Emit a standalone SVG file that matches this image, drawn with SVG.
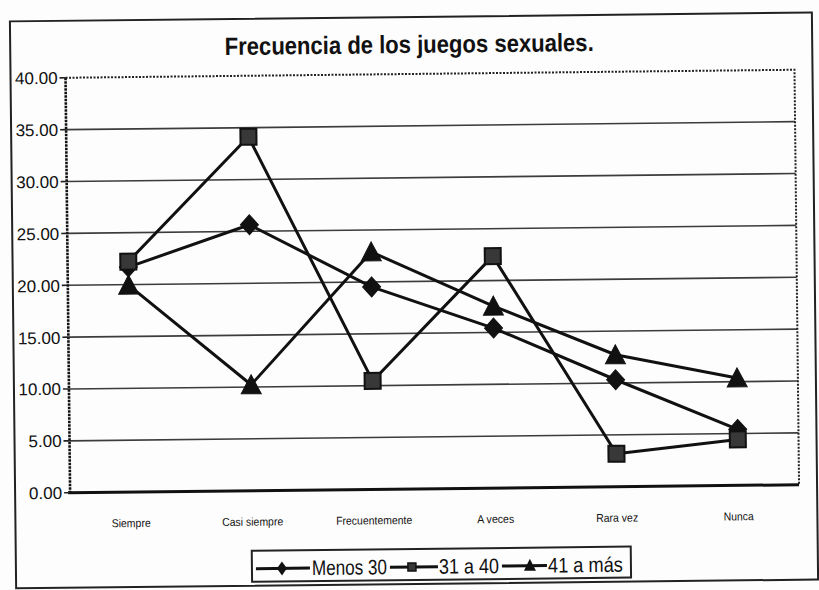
<svg xmlns="http://www.w3.org/2000/svg" width="819" height="590" viewBox="0 0 819 590">
<style>
.t{font-family:"Liberation Sans",Arial,Helvetica,sans-serif;fill:#111}
.title{font-size:25px;font-weight:bold;text-anchor:middle}
.y{font-size:17px;text-anchor:end}
.x{font-size:11.5px;text-anchor:middle}
.lg{font-size:21px}
.grid{stroke:#3c3c3c;stroke-width:1.6}
.tick{stroke:#222;stroke-width:1.6}
.ser{fill:none;stroke:#111;stroke-width:3;stroke-linejoin:round}
.mk{fill:#111;stroke:#111;stroke-width:1}
.sq{fill:#383838;stroke:#111;stroke-width:2}
</style>
<defs>
<path id="dia" d="M0,-10 L9,0 L0,10 L-9,0 Z"/>
<rect id="sqm" x="-8" y="-8" width="16" height="16"/>
<path id="tri" d="M0,-10 L10,9 L-10,9 Z"/>
</defs>
<rect width="819" height="590" fill="#fdfdfd"/>
<g transform="rotate(-0.63 410 300)">
  <g id="chart-frame">
    <rect x="13" y="17" width="802" height="567" fill="none" stroke="#222" stroke-width="2"/>
  </g>
  <g id="title">
    <text class="t title" x="412" y="53" textLength="369" lengthAdjust="spacingAndGlyphs">Frecuencia de los juegos sexuales.</text>
  </g>
  <g id="plot-area">
    <g id="gridlines">
      <line class="grid" x1="68" y1="125.9" x2="797" y2="125.9"/>
      <line class="grid" x1="68" y1="177.75" x2="797" y2="177.75"/>
      <line class="grid" x1="68" y1="229.6" x2="797" y2="229.6"/>
      <line class="grid" x1="68" y1="281.5" x2="797" y2="281.5"/>
      <line class="grid" x1="68" y1="333.4" x2="797" y2="333.4"/>
      <line class="grid" x1="68" y1="385.25" x2="797" y2="385.25"/>
      <line class="grid" x1="68" y1="437.1" x2="797" y2="437.1"/>
    </g>
    <path d="M68,74 H797 V489" fill="none" stroke="#222" stroke-width="2" stroke-dasharray="2 1.5"/>
    <line x1="68" y1="74" x2="68" y2="489" stroke="#111" stroke-width="2.6" stroke-dasharray="2.5 1"/>
    <line x1="66" y1="489" x2="797" y2="489" stroke="#111" stroke-width="3"/>
  </g>
  <g id="y-axis">
    <g class="tick">
      <line x1="62" y1="74" x2="68" y2="74"/>
      <line x1="62" y1="125.9" x2="68" y2="125.9"/>
      <line x1="62" y1="177.75" x2="68" y2="177.75"/>
      <line x1="62" y1="229.6" x2="68" y2="229.6"/>
      <line x1="62" y1="281.5" x2="68" y2="281.5"/>
      <line x1="62" y1="333.4" x2="68" y2="333.4"/>
      <line x1="62" y1="385.25" x2="68" y2="385.25"/>
      <line x1="62" y1="437.1" x2="68" y2="437.1"/>
      <line x1="62" y1="489" x2="68" y2="489"/>
    </g>
    <text class="t y" x="60" y="80">40.00</text>
    <text class="t y" x="60" y="132">35.00</text>
    <text class="t y" x="60" y="184">30.00</text>
    <text class="t y" x="60" y="236">25.00</text>
    <text class="t y" x="60" y="288">20.00</text>
    <text class="t y" x="60" y="340">15.00</text>
    <text class="t y" x="60" y="391">10.00</text>
    <text class="t y" x="60" y="443">5.00</text>
    <text class="t y" x="60" y="495">0.00</text>
  </g>
  <g id="x-axis">
    <text class="t x" x="128.75" y="524" textLength="39" lengthAdjust="spacingAndGlyphs">Siempre</text>
    <text class="t x" x="250.25" y="524" textLength="61" lengthAdjust="spacingAndGlyphs">Casi siempre</text>
    <text class="t x" x="371.75" y="524" textLength="76" lengthAdjust="spacingAndGlyphs">Frecuentemente</text>
    <text class="t x" x="493.25" y="524" textLength="37" lengthAdjust="spacingAndGlyphs">A veces</text>
    <text class="t x" x="614.75" y="524" textLength="42" lengthAdjust="spacingAndGlyphs">Rara vez</text>
    <text class="t x" x="736.25" y="524" textLength="30" lengthAdjust="spacingAndGlyphs">Nunca</text>
  </g>
  <g id="connectors">
    <g id="series-menos-30">
      <polyline class="ser" points="128.75,264 250.25,223 371.75,286.5 493.25,329 614.75,382 736.25,433"/>
      <g class="mk">
        <use href="#dia" x="128.75" y="264"/>
        <use href="#dia" x="250.25" y="223"/>
        <use href="#dia" x="371.75" y="286.5"/>
        <use href="#dia" x="493.25" y="329"/>
        <use href="#dia" x="614.75" y="382"/>
        <use href="#dia" x="736.25" y="433"/>
      </g>
    </g>
    <g id="series-31-a-40">
      <polyline class="ser" points="128.75,258.5 250.25,135 371.75,380.5 493.25,257 614.75,456 736.25,443"/>
      <g class="sq">
        <use href="#sqm" x="128.75" y="258.5"/>
        <use href="#sqm" x="250.25" y="135"/>
        <use href="#sqm" x="371.75" y="380.5"/>
        <use href="#sqm" x="493.25" y="257"/>
        <use href="#sqm" x="614.75" y="456"/>
        <use href="#sqm" x="736.25" y="443"/>
      </g>
    </g>
    <g id="series-41-a-mas">
      <polyline class="ser" points="128.75,282 250.25,383 371.75,251.5 493.25,307 614.75,357 736.25,381.5"/>
      <g class="mk">
        <use href="#tri" x="128.75" y="282"/>
        <use href="#tri" x="250.25" y="383"/>
        <use href="#tri" x="371.75" y="251.5"/>
        <use href="#tri" x="493.25" y="307"/>
        <use href="#tri" x="614.75" y="357"/>
        <use href="#tri" x="736.25" y="381.5"/>
      </g>
    </g>
  </g>
  <g id="legend">
    <rect x="249" y="549" width="379" height="31" fill="#fdfdfd" stroke="#222" stroke-width="2"/>
    <line x1="253" y1="567" x2="307" y2="567" stroke="#111" stroke-width="3"/>
    <path d="M279,560 L284,567 L279,574 L274,567 Z" fill="#111"/>
    <text class="t lg" x="309" y="574" textLength="75" lengthAdjust="spacingAndGlyphs">Menos 30</text>
    <line x1="387" y1="567" x2="435" y2="567" stroke="#111" stroke-width="3"/>
    <rect x="405" y="563" width="8" height="8" fill="#383838" stroke="#111" stroke-width="1.5"/>
    <text class="t lg" x="436" y="574" textLength="60" lengthAdjust="spacingAndGlyphs">31 a 40</text>
    <line x1="499" y1="567" x2="544" y2="567" stroke="#111" stroke-width="3"/>
    <path d="M527,560 L533,572 L521,572 Z" fill="#111"/>
    <text class="t lg" x="545" y="574" textLength="75" lengthAdjust="spacingAndGlyphs">41 a más</text>
  </g>
</g>
</svg>
